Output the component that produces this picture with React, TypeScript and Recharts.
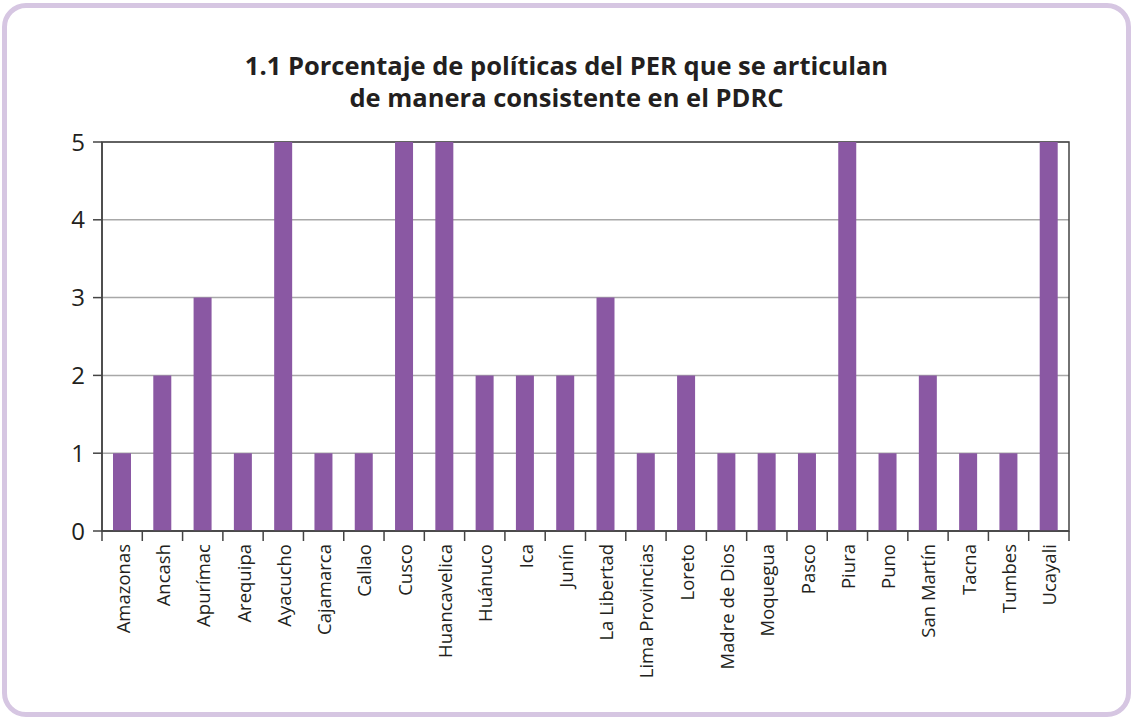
import React from 'react';
import {
  BarChart,
  Bar,
  XAxis,
  YAxis,
  CartesianGrid,
  ReferenceArea,
} from 'recharts';

const regions = [
  'Amazonas', 'Ancash', 'Apurímac', 'Arequipa', 'Ayacucho', 'Cajamarca',
  'Callao', 'Cusco', 'Huancavelica', 'Huánuco', 'Ica', 'Junín',
  'La Libertad', 'Lima Provincias', 'Loreto', 'Madre de Dios', 'Moquegua',
  'Pasco', 'Piura', 'Puno', 'San Martín', 'Tacna', 'Tumbes', 'Ucayali',
];
const values = [1, 2, 3, 1, 5, 1, 1, 5, 5, 2, 2, 2, 3, 1, 2, 1, 1, 1, 5, 1, 2, 1, 1, 5];
const yTicks = [0, 1, 2, 3, 4, 5];

const data = regions.map((name, i) => ({ name, value: values[i] }));

const FONT = '"Open Sans", "Noto Sans", sans-serif';
const TEXT = '#231f20';
const PURPLE = '#8a58a3';
const AXIS = '#444';

// label rotated, plus tick marks at the band edges (not at centres)
const RotatedTick = (props: any) => {
  const { x, y, payload, index, visibleTicksCount } = props;
  const half = payload.offset || 0;
  const axisY = y - 13;
  const isLast = index === visibleTicksCount - 1;
  return (
    <g>
      <line x1={x - half} x2={x - half} y1={axisY} y2={axisY + 10} stroke={AXIS} strokeWidth={1.5} />
      {isLast && (
        <line x1={x + half} x2={x + half} y1={axisY} y2={axisY + 10} stroke={AXIS} strokeWidth={1.5} />
      )}
      <text
        x={x}
        y={y}
        transform={`rotate(-90, ${x}, ${y})`}
        textAnchor="end"
        dominantBaseline="central"
        fontFamily={FONT}
        fontSize={18.5}
        fill={TEXT}
      >
        {payload.value}
      </text>
    </g>
  );
};

const App: React.FC = () => {
  return (
    <div style={{ position: 'relative', width: 1133, height: 719, background: '#fff' }}>
      <style>{'body{margin:0}'}</style>
      <div
        style={{
          position: 'absolute',
          left: 2,
          top: 3,
          width: 1129,
          height: 714,
          boxSizing: 'border-box',
          border: '5px solid #d6c6e2',
          borderRadius: 24,
        }}
      />
      <div
        style={{
          position: 'absolute',
          left: 0,
          top: 49,
          width: 1133,
          textAlign: 'center',
          fontFamily: FONT,
          fontWeight: 700,
          fontSize: 25.5,
          lineHeight: '32px',
          color: TEXT,
        }}
      >
        1.1 Porcentaje de políticas del PER que se articulan
        <br />
        de manera consistente en el PDRC
      </div>
      <div style={{ position: 'absolute', left: 0, top: 0 }}>
        <BarChart
          width={1133}
          height={719}
          data={data}
          margin={{ top: 142, right: 64, bottom: 28, left: 42 }}
          barSize={18}
        >
          <CartesianGrid vertical={false} stroke="#a8a8a8" strokeWidth={1.5} yAxisId="left" />
          <ReferenceArea
            yAxisId="left"
            y1={0}
            y2={5}
            fill="none"
            fillOpacity={0}
            stroke={AXIS}
            strokeWidth={1.5}
          />
          <XAxis
            dataKey="name"
            interval={0}
            tickLine={false}
            axisLine={{ stroke: AXIS, strokeWidth: 1.5 }}
            stroke={AXIS}
            tickSize={0}
            tickMargin={13}
            tick={<RotatedTick />}
            height={160}
          />
          <YAxis
            yAxisId="left"
            domain={[0, 5]}
            ticks={yTicks}
            width={60}
            tickSize={9}
            tickMargin={8}
            stroke={AXIS}
            tickLine={{ stroke: AXIS, strokeWidth: 1.5 }}
            axisLine={{ stroke: AXIS, strokeWidth: 1.5 }}
            tick={{ fontFamily: FONT, fontSize: 24, fill: TEXT }}
          />
          <Bar
            dataKey="value"
            yAxisId="left"
            fill={PURPLE}
            isAnimationActive={false}
          />
        </BarChart>
      </div>
    </div>
  );
};

export default App;
